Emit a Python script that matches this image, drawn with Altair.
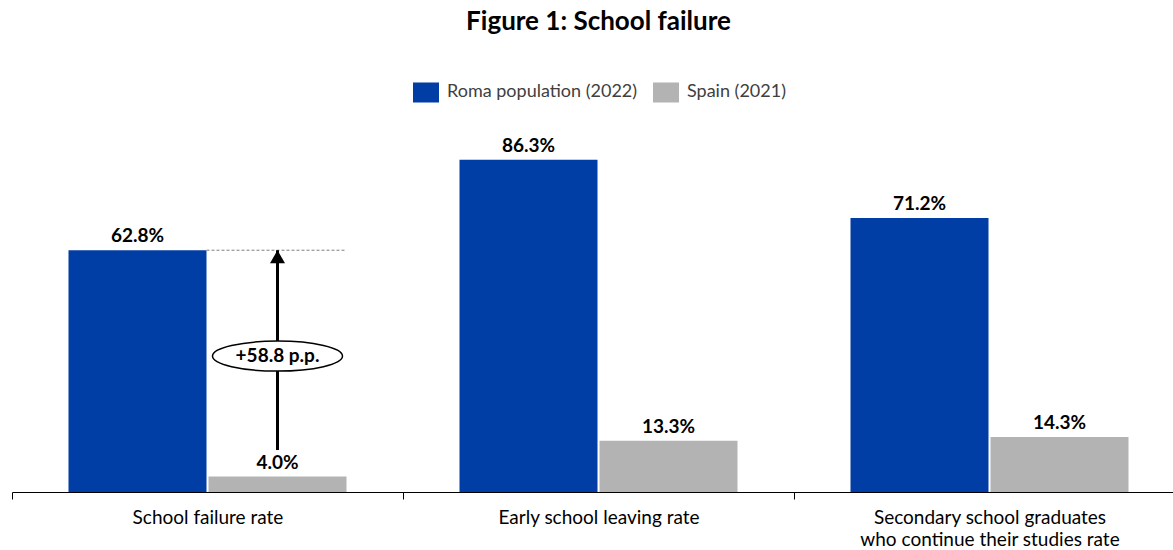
import altair as alt
import pandas as pd

# ---- data ----
categories = [
    "School failure rate",
    "Early school leaving rate",
    "Secondary school graduates\nwho continue their studies rate",
]
series_names = ["Roma population (2022)", "Spain (2021)"]
roma = [62.8, 86.3, 71.2]
spain = [4.0, 13.3, 14.3]
colors = ["#003DA5", "#B3B3B3"]

# annotation on the first category (values in % units)
arrow_start = 10.9
ellipse_y = 35.3

FONT = "Lato"

rows = []
for i, c in enumerate(categories):
    for s, v in zip(series_names, [roma[i], spain[i]]):
        rows.append({"cat": c, "series": s, "value": v, "label": f"{v:.1f}%"})
df = pd.DataFrame(rows)

diff = roma[0] - spain[0]
arrow_df = pd.DataFrame([{"cat": categories[0], "series": series_names[1],
                          "y1": arrow_start, "y2": roma[0], "ym": ellipse_y,
                          "txt": f"+{diff:.1f} p.p."}])
dash_df = pd.DataFrame([{"cat": categories[0], "value": roma[0]}])

# band layout: categories fill the whole step, the pair of bars is inset
PI_O, PO_O = 0.0143, 0.4036
x_scale = alt.Scale(domain=categories, range=[0, 1173], paddingInner=0, paddingOuter=0)
xo_scale = alt.Scale(domain=series_names, paddingInner=PI_O, paddingOuter=PO_O)
y_scale = alt.Scale(domain=[0, 100])

# fractions of the category band where the Roma bar ends / Spain bar ends
step_u = 1.0 / (2 - PI_O + 2 * PO_O)
band_u = step_u * (1 - PI_O)
roma_end = PO_O * step_u + band_u
spain_end = PO_O * step_u + step_u + band_u

axis = alt.Axis(
    labelAngle=0, tickBand="extent", domainColor="black", tickColor="black",
    tickSize=7, labelPadding=9, labelFont=FONT, labelFontSize=19,
    labelColor="black", labelLineHeight=22, labelBaseline="top",
    labelExpr="split(datum.label, '\\n')", grid=False, labelLimit=400,
)
x_enc = alt.X("cat:N", scale=x_scale, sort=categories, title=None, axis=axis)
xo_enc = alt.XOffset("series:N", scale=xo_scale, sort=series_names)
y_enc = alt.Y("value:Q", scale=y_scale, axis=None)

rect_path = "M-1,-0.77L1,-0.77L1,0.77L-1,0.77Z"

bars = alt.Chart(df).mark_bar().encode(
    x=x_enc, xOffset=xo_enc, y=y_enc,
    color=alt.Color(
        "series:N", sort=series_names,
        scale=alt.Scale(domain=series_names, range=colors),
        legend=alt.Legend(
            orient="none", legendX=401, legendY=-28, direction="horizontal",
            title=None, symbolType=rect_path, symbolSize=676, symbolStrokeWidth=0,
            labelFont=FONT, labelFontSize=18, labelColor="#404040", labelLimit=400,
            columnPadding=15, labelOffset=8, padding=0,
        ),
    ),
)

labels = alt.Chart(df).mark_text(
    font=FONT, fontSize=19, fontWeight="bold", color="black",
    baseline="alphabetic", dy=-8,
).encode(x=x_enc, xOffset=xo_enc, y=y_enc, text="label:N")

dashed = alt.Chart(dash_df).mark_rule(
    color="#7F7F7F", strokeDash=[3, 2], strokeWidth=1
).encode(
    x=alt.X("cat:N", scale=x_scale, sort=categories, title=None, axis=axis,
            bandPosition=roma_end),
    x2=alt.X2("cat:N", bandPosition=spain_end),
    y=y_enc,
)

arrow = alt.Chart(arrow_df).mark_rule(color="black", strokeWidth=3).encode(
    x=x_enc, xOffset=xo_enc,
    y=alt.Y("y1:Q", scale=y_scale, axis=None), y2="y2:Q",
)
head = alt.Chart(arrow_df).mark_point(
    shape="triangle-up", size=225, filled=True, color="black", opacity=1, yOffset=6.5
).encode(x=x_enc, xOffset=xo_enc, y=alt.Y("y2:Q", scale=y_scale, axis=None))

ellipse_path = "M-1,0A1,0.2308,0,1,1,1,0A1,0.2308,0,1,1,-1,0Z"
ellipse = alt.Chart(arrow_df).mark_point(
    shape=ellipse_path, size=16900, filled=True, fill="white",
    stroke="black", strokeWidth=1.5, opacity=1,
).encode(x=x_enc, xOffset=xo_enc, y=alt.Y("ym:Q", scale=y_scale, axis=None))

ell_text = alt.Chart(arrow_df).mark_text(
    font=FONT, fontSize=19, fontWeight="bold", color="black", baseline="middle"
).encode(x=x_enc, xOffset=xo_enc, y=alt.Y("ym:Q", scale=y_scale, axis=None), text="txt:N")

chart = alt.layer(bars, labels, dashed, arrow, head, ellipse, ell_text).properties(
    width=1161, height=385,
    title=alt.TitleParams(
        "Figure 1: School failure", font=FONT, fontSize=26, fontWeight="bold",
        color="black", anchor="middle", dx=6, frame="group", offset=44,
    ),
    autosize=alt.AutoSizeParams(type="none"),
    padding={"left": 12, "top": 107, "right": 0, "bottom": 58},
).configure_view(stroke=None)

chart.save("out.html", embed_options={"renderer": "svg", "actions": False})
